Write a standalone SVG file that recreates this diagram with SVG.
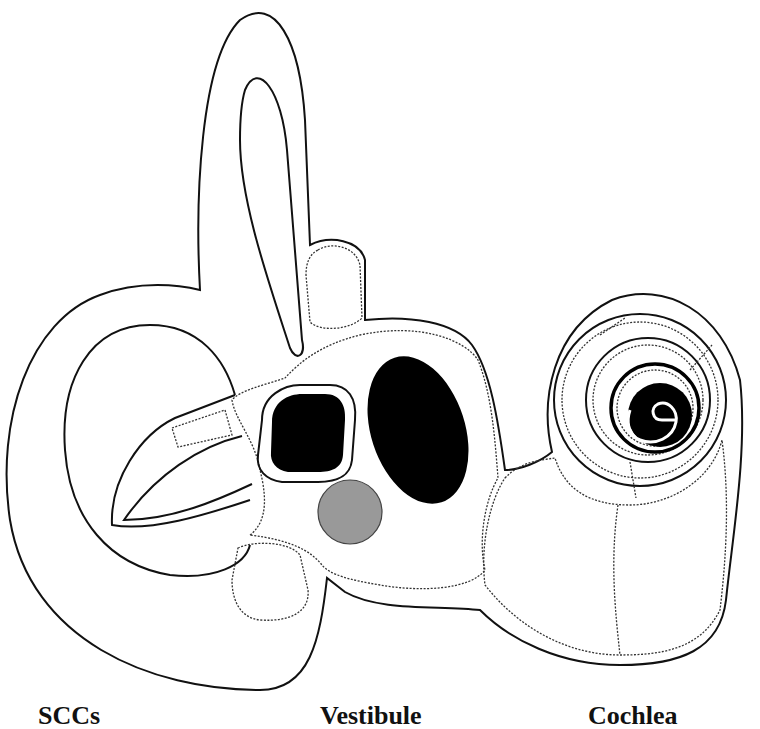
<svg xmlns="http://www.w3.org/2000/svg" width="760" height="729" viewBox="0 0 760 729">
<style>
.o{fill:none;stroke:#111;stroke-width:2}
.d{fill:none;stroke:#333;stroke-width:1.3;stroke-dasharray:2 1.5}
.t{font-family:"Liberation Serif",serif;font-weight:bold;font-size:26px;fill:#111}
</style>
<rect width="760" height="729" fill="#fff"/>
<g id="outline">
<path class="o" d="M200,290 C195,200 200,60 240,20 C275,-5 300,40 305,120 L310,245 C330,235 360,240 365,260 L365,320 C410,315 455,322 472,345 C490,370 498,420 505,470 C520,470 540,462 552,452 C540,400 552,330 612,300 C665,280 722,312 740,380 C748,450 732,540 726,600 C720,650 680,665 620,665 C560,665 510,640 480,610 C440,605 380,612 345,592 L327,578 C320,640 310,690 260,690 C150,690 30,640 10,520 C-5,420 30,320 100,295 C140,280 180,285 200,290 Z"/>
<path class="o" d="M245,90 C258,60 282,90 287,150 L302,340 C306,356 296,362 290,348 C268,280 240,200 240,140 C240,115 242,100 245,90 Z"/>
<path class="o" d="M235,395 C225,360 200,325 150,325 C90,325 60,380 65,450 C70,520 110,565 170,575 C215,580 245,565 250,545"/>
<path class="o" d="M235,395 L175,418 C140,435 110,480 112,525 C150,532 205,515 250,500"/>
<path class="o" d="M242,436 C200,446 155,475 124,520 C172,520 218,500 252,484"/>
</g>
<g id="scc-boxes">
<path class="d" d="M318,250 C330,242 355,245 360,265 L362,318 C350,330 320,332 310,322 L306,275 C306,262 310,254 318,250 Z"/>
<path class="d" d="M172,428 L225,410 L232,435 L178,447 Z"/>
<path class="d" d="M238,548 C255,540 290,542 300,555 L308,590 C310,612 290,622 260,620 C240,618 232,600 232,580 Z"/>
</g>
<g id="vestibule">
<path class="d" d="M250,535 C270,520 265,490 260,470 C255,440 235,420 232,400 C240,390 265,385 285,378 C300,362 320,345 360,335 C420,322 465,340 478,360 C492,395 495,440 498,478 C485,500 478,540 485,570 C470,590 420,592 380,585 C350,580 330,575 322,565 C310,550 290,540 250,535 Z"/>
<path class="o" d="M262,420 C262,395 285,385 300,385 L330,385 C348,385 357,398 355,420 L352,460 C350,478 335,482 318,482 L282,482 C266,480 256,470 258,455 Z"/>
<path fill="#000" d="M272,422 C272,402 288,394 302,394 L325,394 C340,394 346,405 345,420 L343,455 C342,468 332,472 318,472 L288,472 C276,470 270,462 271,452 Z"/>
<ellipse cx="418" cy="430" rx="47" ry="76" transform="rotate(-18 418 430)" fill="#000"/>
<circle cx="350" cy="512" r="32" fill="#999" stroke="#444" stroke-width="1.2"/>
</g>
<g id="cochlea">
<path class="d" d="M505,478 C520,462 540,460 555,458 C565,490 590,505 630,505 C670,505 712,480 722,440 C730,500 726,560 720,610 C700,650 660,655 620,655 C570,655 520,630 485,585 C480,545 490,500 505,478 Z"/>
<path class="d" d="M618,505 C610,560 615,610 620,655"/>
<circle class="o" cx="640" cy="400" r="86"/>
<circle class="d" cx="640" cy="400" r="78"/>
<circle class="o" cx="648" cy="400" r="62"/>
<circle class="d" cx="648" cy="400" r="55"/>
<path class="d" d="M600,335 L625,318 M690,370 L712,345 M630,462 L636,498"/>
<circle cx="655" cy="408" r="44" fill="none" stroke="#000" stroke-width="3.5"/>
<circle class="d" cx="655" cy="408" r="38"/>
<circle cx="660" cy="415" r="32" fill="#000"/>
<path fill="none" stroke="#fff" stroke-width="3" d="M676,420 L662,420 C652,420 650,408 658,404 C668,400 678,410 676,422 C673,438 655,446 640,440 C628,435 626,422 630,410"/>
</g>
<g id="labels">
<text class="t" x="38" y="724">SCCs</text>
<text class="t" x="320" y="724">Vestibule</text>
<text class="t" x="588" y="724">Cochlea</text>
</g>
</svg>
